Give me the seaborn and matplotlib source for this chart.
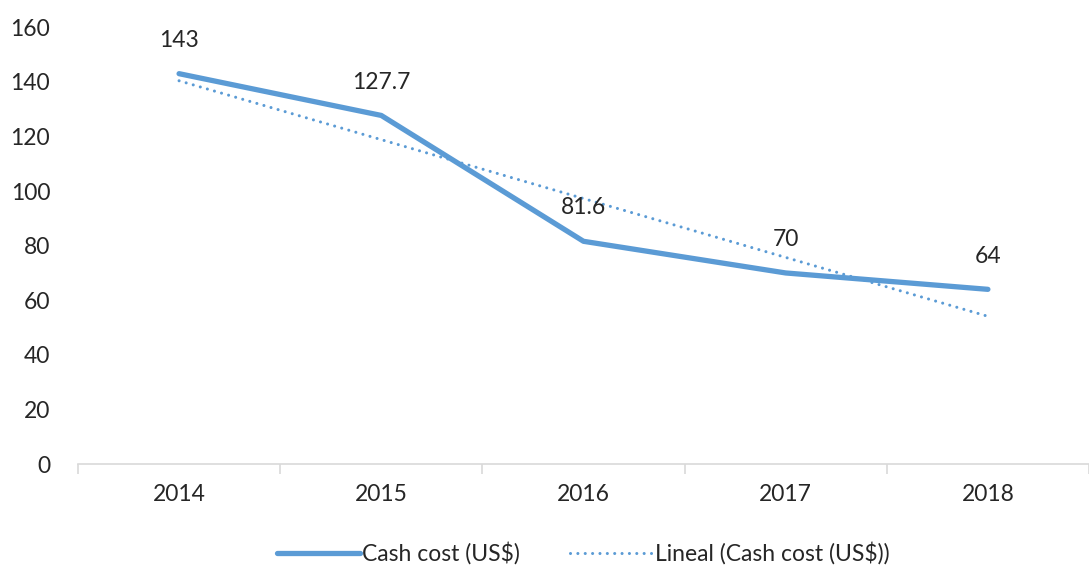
import numpy as np
import pandas as pd
import matplotlib.pyplot as plt
import seaborn as sns

# 数据
years = ['2014', '2015', '2016', '2017', '2018']
cash_cost = [143, 127.7, 81.6, 70, 64]
labels = ['143', '127.7', '81.6', '70', '64']

sns.set_style("white")
plt.rcParams['font.family'] = ['Lato', 'DejaVu Sans']

blue = '#5B9BD5'
xpos = np.arange(len(years))

# 线性趋势 (Excel "Lineal")
slope, intercept = np.polyfit(xpos, cash_cost, 1)
trend = slope * xpos + intercept

df = pd.DataFrame({'x': xpos, 'cost': cash_cost, 'trend': trend})

fig = plt.figure(figsize=(10.89, 5.68), dpi=100)
ax = fig.add_axes([0.0716, 0.183, 0.9284, 0.769])

sns.lineplot(data=df, x='x', y='cost', ax=ax, color=blue, linewidth=3.8,
             label='Cash cost (US$)', solid_capstyle='round')
sns.lineplot(data=df, x='x', y='trend', ax=ax, color=blue, linewidth=2.2,
             linestyle=(0, (0.01, 2.4)), dash_capstyle='round',
             label='Lineal (Cash cost (US$))')

for xi, yi, txt in zip(xpos, cash_cost, labels):
    ax.annotate(txt, (xi, yi), xytext=(0, 24), textcoords='offset points',
                ha='center', va='center', fontsize=16.5)

ax.set_xlim(-0.5, 4.45)
ax.set_ylim(0, 160)
ax.set_yticks(range(0, 161, 20))
ax.set_xticks(xpos)
ax.set_xticklabels(years)
ax.set_xticks(np.arange(-0.5, 4.6, 1), minor=True)
ax.tick_params(axis='x', which='major', length=0, pad=14, labelsize=16.5)
ax.tick_params(axis='x', which='minor', bottom=True, length=7,
               color='#D9D9D9', width=1.2)
ax.tick_params(axis='y', length=0, pad=20, labelsize=16.5)
ax.set_xlabel('')
ax.set_ylabel('')

for s in ['top', 'right', 'left']:
    ax.spines[s].set_visible(False)
ax.spines['bottom'].set_color('#D9D9D9')
ax.spines['bottom'].set_linewidth(1.2)

ax.legend(loc='center', bbox_to_anchor=(0.5, -0.205), ncol=2, frameon=False,
          fontsize=16.5, handlelength=3.6, handletextpad=0.1, columnspacing=2.2)

plt.savefig('out.png', dpi=100)
plt.close()
